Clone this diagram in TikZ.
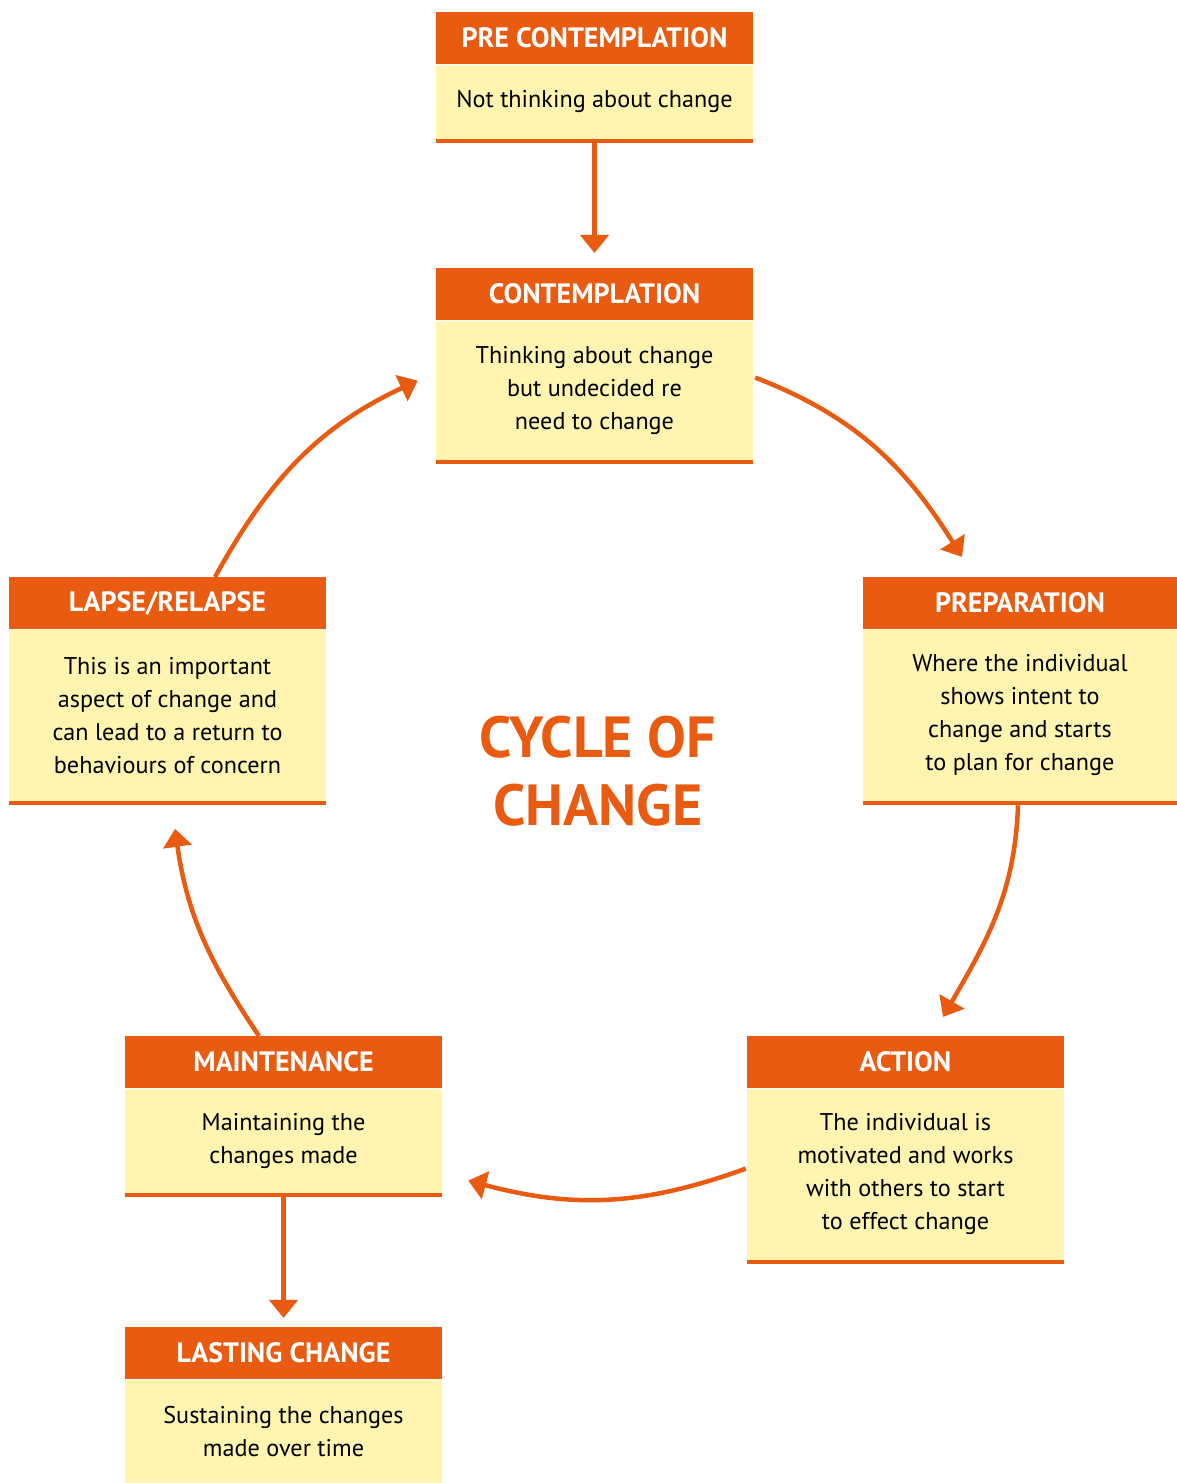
\documentclass[tikz,border=0pt]{standalone}
\usepackage{fontspec}
\setmainfont{PT Sans}
\usetikzlibrary{arrows.meta,calc}
\definecolor{org}{HTML}{E85B10}
\definecolor{ylw}{HTML}{FFF5B0}
\begin{document}
\begin{tikzpicture}[x=1pt,y=1pt,
  hdr/.style={fill=org, text=white, font=\bfseries\fontsize{28}{30}\selectfont, minimum width=317pt, minimum height=52pt, inner sep=0pt, anchor=north},
  bodybox/.style={fill=ylw, font=\fontsize{24.2}{33}\selectfont, align=center, minimum width=317pt, inner sep=0pt, anchor=north},
  bar/.style={draw=org, line width=4.5pt},
  conn/.style={draw=org, line width=4.5pt, -{Triangle[length=18pt,width=28pt]}}
]
\useasboundingbox (0,0) rectangle (1177,1483);
% PRE CONTEMPLATION
\node[hdr] (preH) at (594.5,1471) {PRE CONTEMPLATION};
\node[bodybox, minimum height=74pt] (pre) at (preH.south) {Not thinking about change};
% CONTEMPLATION
\node[hdr] (contH) at (594.5,1215) {CONTEMPLATION};
\node[bodybox, minimum height=139pt] (cont) at (contH.south) {Thinking about change\\but undecided re\\need to change};
% PREPARATION
\node[hdr, minimum width=314pt] (prepH) at (1020,906) {PREPARATION};
\node[bodybox, minimum width=314pt, minimum height=171pt] (prep) at (prepH.south) {Where the individual\\shows intent to\\change and starts\\to plan for change};
% LAPSE
\node[hdr] (lapH) at (167.5,906) {LAPSE/RELAPSE};
\node[bodybox, minimum height=171pt] (lap) at (lapH.south) {This is an important\\aspect of change and\\can lead to a return to\\behaviours of concern};
% ACTION
\node[hdr] (actH) at (905.5,447) {ACTION};
\node[bodybox, minimum height=171pt] (act) at (actH.south) {The individual is\\motivated and works\\with others to start\\to effect change};
% MAINTENANCE
\node[hdr] (mainH) at (283.5,447) {MAINTENANCE};
\node[bodybox, minimum height=104pt] (main) at (mainH.south) {Maintaining the\\changes made};
% LASTING CHANGE
\node[hdr] (lastH) at (283.5,156) {LASTING CHANGE};
\node[bodybox, minimum height=104pt] (last) at (lastH.south) {Sustaining the changes\\made over time};
% bottom bars
\foreach \n in {pre,cont,prep,lap,act,main}{
  \draw[bar] ([yshift=-2.25pt]\n.south west) -- ([yshift=-2.25pt]\n.south east);
}
% title
\node[text=org, font=\bfseries\fontsize{58}{68}\selectfont, align=center] (title) at (598,712) {CYCLE OF\\CHANGE};
% connectors
\draw[conn] ([yshift=-4.5pt]pre.south) -- ([yshift=15pt]contH.north);
\draw[conn] ([yshift=-4.5pt]main.south) -- ([yshift=9pt]lastH.north);
\draw[conn] ($(cont.east)+(2,12.5)$) to[out=-21,in=122] ($(prepH.north)+(-58,20)$);
\draw[conn] ($(prep.south)+(-2,-4.5)$) to[out=-92,in=60] ($(actH.north)+(37.5,19)$);
\draw[conn] ($(act.west)+(-1,5.5)$) to[out=-160,in=-15] ($(main.east)+(26,-40)$);
\draw[conn] ($(mainH.north)+(-24.5,0)$) to[out=124,in=-82] ($(lap.south)+(7.5,-28)$);
\draw[conn] ($(lapH.north)+(47.5,0)$) to[out=61,in=-155] ($(cont.west)+(-18,9.5)$);
\end{tikzpicture}
\end{document}
